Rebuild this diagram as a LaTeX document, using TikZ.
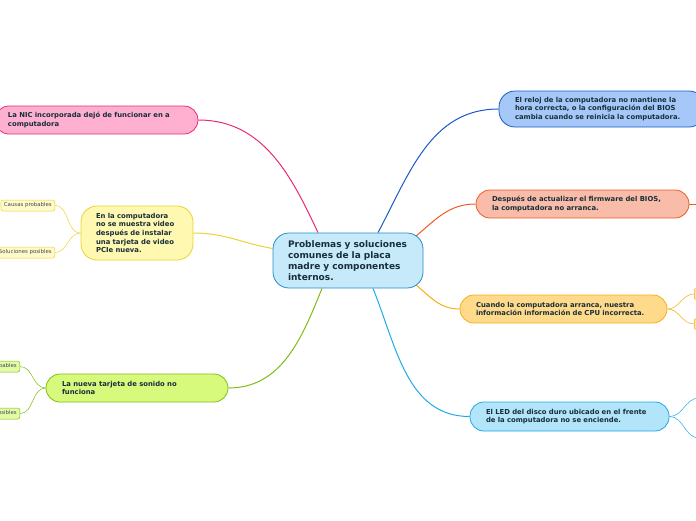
\documentclass[tikz,border=0pt]{standalone}
\usepackage{fontspec}
\setmainfont{DejaVu Sans}
\usepackage{xcolor}
\usetikzlibrary{backgrounds}

\definecolor{ink}{RGB}{24,46,58}
\definecolor{hubfill}{RGB}{198,234,250}
\definecolor{hubline}{RGB}{40,140,200}
\definecolor{nicfill}{RGB}{255,176,208}
\definecolor{nicline}{RGB}{236,40,120}
\definecolor{vidfill}{RGB}{255,248,176}
\definecolor{vidline}{RGB}{232,212,50}
\definecolor{sndfill}{RGB}{215,250,125}
\definecolor{sndline}{RGB}{128,188,20}
\definecolor{clkfill}{RGB}{165,200,248}
\definecolor{clkline}{RGB}{25,90,200}
\definecolor{biofill}{RGB}{248,188,168}
\definecolor{bioline}{RGB}{240,90,40}
\definecolor{cpufill}{RGB}{255,218,138}
\definecolor{cpuline}{RGB}{245,175,20}
\definecolor{ledfill}{RGB}{178,228,250}
\definecolor{ledline}{RGB}{30,170,230}

\begin{document}
\begin{tikzpicture}[
  x=1pt, y=1pt,
  topic/.style={draw, line width=0.8pt, rounded corners=14pt, align=left,
                text=ink, inner ysep=0pt,
                font=\fontsize{6.85}{8.6}\selectfont\bfseries},
  leaf/.style={draw, line width=0.5pt, rounded corners=2pt, text=ink!85,
               inner xsep=3pt, inner ysep=0pt, minimum height=11pt,
               font=\fontsize{5.4}{6}\selectfont},
  link/.style={line width=1pt},
  twig/.style={line width=0.5pt}
]
\clip (0,0) rectangle (696,-520);

% central topic
\node[topic, fill=hubfill, draw=hubline, rounded corners=16pt,
      font=\fontsize{9}{11}\selectfont\bfseries,
      text width=120, inner xsep=15pt, minimum height=55] (hub) at (348,-260.5)
  {Problemas y soluciones\\comunes de la placa\\madre y componentes\\internos.};

% left branches
\node[topic, fill=nicfill, draw=nicline, text width=177, inner xsep=13pt,
      minimum height=28] (nic) at (96.5,-120)
  {La NIC incorporada dejó de funcionar en a\\computadora};
\node[topic, fill=vidfill, draw=vidline, rounded corners=16pt, text width=82,
      inner xsep=15pt, minimum height=54] (video) at (137,-233)
  {En la computadora\\no se muestra video\\después de instalar\\una tarjeta de video\\PCIe nueva.};
\node[topic, fill=sndfill, draw=sndline, text width=150, inner xsep=16pt,
      minimum height=28] (sound) at (137,-388)
  {La nueva tarjeta de sonido no\\funciona};

% right branches
\node[topic, fill=clkfill, draw=clkline, rounded corners=16pt, text width=174,
      inner xsep=16pt, minimum height=36] (clock) at (602,-109)
  {El reloj de la computadora no mantiene la\\hora correcta, o la configuración del BIOS\\cambia cuando se reinicia la computadora.};
\node[topic, fill=biofill, draw=bioline, text width=181, inner xsep=16pt,
      minimum height=28] (bios) at (582.5,-204)
  {Después de actualizar el firmware del BIOS,\\la computadora no arranca.};
\node[topic, fill=cpufill, draw=cpuline, text width=175, inner xsep=16pt,
      minimum height=28] (cpu) at (563.5,-309)
  {Cuando la computadora arranca, nuestra\\información información de CPU incorrecta.};
\node[topic, fill=ledfill, draw=ledline, text width=167, inner xsep=16pt,
      minimum height=29] (led) at (569.5,-416.5)
  {El LED del disco duro ubicado en el frente\\de la computadora no se enciende.};

% leaves
\node[leaf, fill=vidfill!70, draw=vidline, anchor=east] (vidcause) at (55,-205.5) {Causas probables};
\node[leaf, fill=vidfill!70, draw=vidline, anchor=east] (vidfix) at (55,-252.5) {Soluciones posibles};
\node[leaf, fill=sndfill!70, draw=sndline, anchor=east] (sndcause) at (20,-366.5) {Causas probables};
\node[leaf, fill=sndfill!70, draw=sndline, anchor=east] (sndfix) at (20,-413.5) {Soluciones posibles};
\node[leaf, fill=cpufill!70, draw=cpuline, anchor=west, minimum width=60] (cpucause) at (694,-294) {};
\node[leaf, fill=cpufill!70, draw=cpuline, anchor=west, minimum width=60] (cpufix) at (694,-324) {};
\node[leaf, fill=ledfill!70, draw=ledline, anchor=west, minimum width=60] (ledcause) at (699,-398) {};
\node[leaf, fill=ledfill!70, draw=ledline, anchor=west, minimum width=60] (ledfix) at (699,-438) {};
\coordinate (bioskid) at (720,-204);

\begin{pgfonlayer}{background}
\draw[link, nicline] ([xshift=-30pt]hub.north) to[out=115,in=0] (nic.east);
\draw[link, vidline] ([yshift=12pt]hub.west) to[out=170,in=0] (video.east);
\draw[link, sndline] ([xshift=-26pt]hub.south) to[out=-112,in=0] (sound.east);
\draw[link, clkline] ([xshift=30pt]hub.north) to[out=62,in=180] (clock.west);
\draw[link, bioline] ([xshift=-8pt,yshift=-4pt]hub.north east) to[out=40,in=180] (bios.west);
\draw[link, cpuline] ([xshift=-8pt,yshift=4pt]hub.south east) to[out=-40,in=180] (cpu.west);
\draw[link, ledline] ([xshift=25pt]hub.south) to[out=-68,in=180] (led.west);
\draw[link, bioline] (bios.east) -- (bioskid);
\foreach \p/\c/\k in {video/vidcause/vidline, video/vidfix/vidline,
                      sound/sndcause/sndline, sound/sndfix/sndline}
  \draw[twig, \k] (\p.west) to[out=180,in=0] (\c.east);
\foreach \p/\c/\k in {cpu/cpucause/cpuline, cpu/cpufix/cpuline,
                      led/ledcause/ledline, led/ledfix/ledline}
  \draw[twig, \k] (\p.east) to[out=0,in=180] (\c.west);
\end{pgfonlayer}
\end{tikzpicture}
\end{document}
